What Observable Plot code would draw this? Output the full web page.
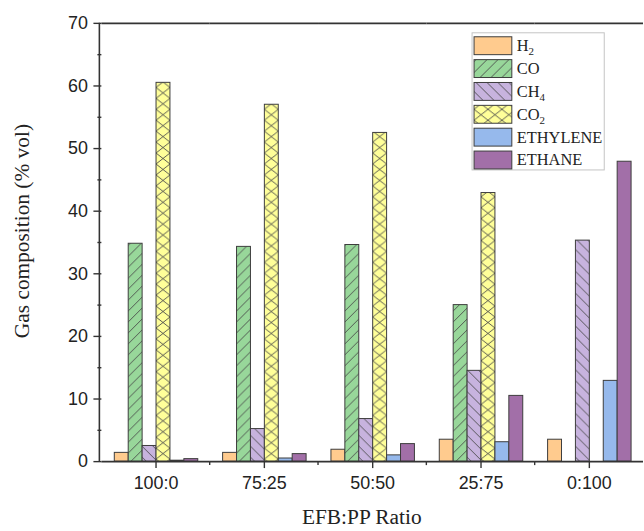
<!DOCTYPE html>
<html>
<head>
<meta charset="utf-8">
<script src="https://cdn.jsdelivr.net/npm/d3@7"></script>
<script src="https://cdn.jsdelivr.net/npm/@observablehq/plot@0.6"></script>
<style>
html, body { margin: 0; padding: 0; overflow: hidden; background: #fff; }
</style>
</head>
<body>
<div id="chart"></div>
<script>
// ---- data ----
const ratios = ["100:0", "75:25", "50:50", "25:75", "0:100"];
const gases = ["H2", "CO", "CH4", "CO2", "ETHYLENE", "ETHANE"];
const h2       = [1.4, 1.4, 1.9, 3.5, 3.5];
const co       = [34.8, 34.3, 34.6, 25.0, 0];
const ch4      = [2.5, 5.2, 6.8, 14.5, 35.3];
const co2      = [60.5, 57.0, 52.5, 42.9, 0];
const ethylene = [0.15, 0.5, 1.0, 3.1, 12.9];
const ethane   = [0.4, 1.2, 2.8, 10.5, 47.9];
const legendBase = ["H", "CO", "CH", "CO", "ETHYLENE", "ETHANE"];
const legendSub  = ["2", "", "4", "2", "", ""];
const yTicks = [0, 10, 20, 30, 40, 50, 60, 70];
const yMinorTicks = [5, 15, 25, 35, 45, 55, 65];
const xTitle = "EFB:PP Ratio";
const yTitle = "Gas composition (% vol)";

// ---- style ----
const fillColors = ["#FFCB8E", "#98D79A", "#C7B3DE", "#FFFF99", "#96B9EC", "#A26FA8"];
const hatchTypes = ["none", "fwd", "back", "cross", "none", "none"];
const serif = "'Liberation Serif', 'Times New Roman', serif";
const sans = "'Liberation Sans', Arial, sans-serif";

const series = [h2, co, ch4, co2, ethylene, ethane];
const data = ratios.flatMap((r, i) => gases.map((g, j) => ({ratio: r, gas: g, value: series[j][i]})));

const chart = Plot.plot({
  width: 648,
  height: 531,
  marginTop: 23,
  marginBottom: 67,
  marginLeft: 100,
  marginRight: 0,
  style: {background: "white", color: "#222", fontSize: "18px", fontFamily: sans},
  fx: {domain: ratios, padding: 0, label: null},
  x: {domain: gases, paddingInner: 0, paddingOuter: 0.75, axis: null},
  y: {domain: [0, 70], label: null},
  color: {type: "identity"},
  marks: [
    Plot.barY(data.filter(d => d.value > 0), {
      fx: "ratio", x: "gas", y: "value",
      fill: d => `url(#pat-${d.gas})`,
      stroke: "#3d3d3d", strokeWidth: 1
    }),
    Plot.ruleY([0], {stroke: "#333", strokeWidth: 1.6}),
    Plot.ruleY([70], {stroke: "#333", strokeWidth: 1.6}),
    Plot.axisY({ticks: yTicks, tickSize: 8, tickPadding: 6, label: null, stroke: "#333", strokeWidth: 1.4}),
    Plot.axisY({ticks: yMinorTicks, tickSize: 4, tickFormat: () => "", label: null, stroke: "#333", strokeWidth: 1.4}),
    Plot.axisFx({anchor: "bottom", tickSize: 7, tickPadding: 8, label: null, stroke: "#333", strokeWidth: 1.4})
  ]
});

document.getElementById("chart").appendChild(chart);

const svg = d3.select(chart);
const defs = svg.insert("defs", ":first-child");
const xs = chart.scale("x");
const ys = chart.scale("y");
const fxs = chart.scale("fx");
const bw = xs.bandwidth;

gases.forEach((g, j) => {
  const type = hatchTypes[j];
  let w = 11, h = 11, ox = 0;
  if (type === "cross") { w = bw; h = 11; ox = xs.apply(g); }
  const p = defs.append("pattern")
    .attr("id", `pat-${g}`)
    .attr("patternUnits", "userSpaceOnUse")
    .attr("x", ox).attr("y", 0)
    .attr("width", w).attr("height", h);
  p.append("rect").attr("width", w).attr("height", h).attr("fill", fillColors[j]);
  let d = null;
  if (type === "fwd") d = `M0,${h} L${w},0 M${-w},${h} L0,0 M${w},${h} L${2 * w},0`;
  if (type === "back") d = `M0,0 L${w},${h} M${-w},0 L0,${h} M${w},0 L${2 * w},${h}`;
  if (type === "cross") d = `M0,0 L${w},${h} M${w},0 L0,${h} M${-w},0 L0,${h} M${w},0 L${2*w},${h} M0,0 L${-w},${h} M${2*w},0 L${w},${h}`;
  if (d) p.append("path").attr("d", d).attr("stroke", "#4a4a4a").attr("stroke-width", 0.9).attr("fill", "none");
});

// axis lines & minor x ticks
const y0 = ys.apply(0), y70 = ys.apply(70);
const left = fxs.range[0];
svg.append("line").attr("x1", left).attr("x2", left).attr("y1", y70).attr("y2", y0)
  .attr("stroke", "#333").attr("stroke-width", 1.6);
ratios.slice(0, -1).forEach(r => {
  const bx = fxs.apply(r) + fxs.step;
  svg.append("line").attr("x1", bx).attr("x2", bx).attr("y1", y0).attr("y2", y0 + 4)
    .attr("stroke", "#333").attr("stroke-width", 1.4);
});

// titles
svg.append("text").attr("x", 364).attr("y", 527).attr("text-anchor", "middle")
  .attr("font-family", serif).attr("font-size", 21.5).attr("fill", "#222").text(xTitle);
svg.append("text").attr("transform", `translate(29,${(y0 + y70) / 2 - 11}) rotate(-90)`)
  .attr("text-anchor", "middle").attr("font-family", serif).attr("font-size", 21.5)
  .attr("fill", "#222").text(yTitle);

// legend
const lg = svg.append("g").attr("font-family", serif).attr("font-size", 16.5)
  .attr("fill", "#222").attr("text-anchor", "start");
lg.append("rect").attr("x", 475).attr("y", 33).attr("width", 133).attr("height", 138)
  .attr("fill", "white").attr("stroke", "#c4c4c4").attr("stroke-width", 1);
gases.forEach((g, j) => {
  const top = 37 + j * 23;
  lg.append("rect").attr("x", 477).attr("y", top).attr("width", 38).attr("height", 18)
    .attr("fill", `url(#pat-${g})`).attr("stroke", "#3d3d3d").attr("stroke-width", 1);
  const t = lg.append("text").attr("x", 520).attr("y", top + 14.5).attr("text-anchor", "start");
  t.append("tspan").text(legendBase[j]);
  if (legendSub[j]) t.append("tspan").attr("font-size", 11).attr("dy", 4).text(legendSub[j]);
});
</script>
</body>
</html>
